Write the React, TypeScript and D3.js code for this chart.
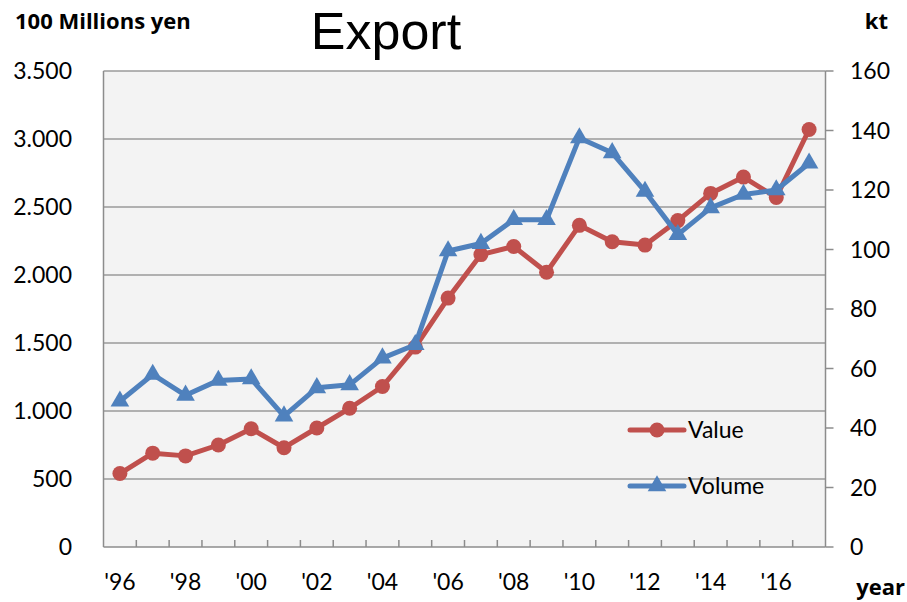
import React from "react";
import * as d3 from "d3";

const years = ["'96","'97","'98","'99","'00","'01","'02","'03","'04","'05","'06","'07","'08","'09","'10","'11","'12","'13","'14","'15","'16","'17"];
const valueSeries = [540,690,670,750,870,730,875,1020,1180,1470,1830,2150,2210,2020,2365,2245,2220,2400,2600,2720,2570,3070];
const volumeSeries = [49,58,51,56,56.5,44,53.5,54.5,63.5,68,99.5,102,110,110,137.5,132.5,119.5,105,114,118.5,120,129];
const leftTicks = [0,500,1000,1500,2000,2500,3000,3500];
const rightTicks = [0,20,40,60,80,100,120,140,160];
const xLabelYears = ["'96","'98","'00","'02","'04","'06","'08","'10","'12","'14","'16"];

const RED = "#C0504D";
const BLUE = "#4F81BD";
const FONT = "Lato, 'Open Sans', sans-serif";
const BOLD = "'Open Sans', Lato, sans-serif";

export default function App() {
  const W = 907, H = 602;
  const left = 103.5, right = 825.5, top = 71, bottom = 547;
  const x = d3.scaleBand<string>().domain(years).range([left, right]);
  const yL = d3.scaleLinear().domain([0, 3500]).range([bottom, top]);
  const yR = d3.scaleLinear().domain([0, 160]).range([bottom, top]);
  const cx = (d: string) => (x(d) as number) + x.bandwidth() / 2;

  const lineV = d3.line<number>().x((_, i) => cx(years[i])).y((d) => yL(d));
  const lineW = d3.line<number>().x((_, i) => cx(years[i])).y((d) => yR(d));
  const tri = d3.symbol().type(d3.symbolTriangle).size(150)();
  const fmt = (v: number) => d3.format(",")(v).replace(/,/g, ".");

  const boundaries = years.slice(1).map((y) => x(y) as number);

  return (
    <svg width={W} height={H} style={{ position: "absolute", left: 0, top: 0, background: "#fff" }}>
      <rect x={left} y={top} width={right - left} height={bottom - top} fill="#f3f3f3" />
      {leftTicks.slice(1).map((t) => (
        <line key={t} x1={left} x2={right} y1={yL(t)} y2={yL(t)} stroke="#9a9a9a" strokeWidth={1.5} />
      ))}
      <line x1={left} x2={left} y1={top} y2={bottom} stroke="#8c8c8c" strokeWidth={1.5} />
      <line x1={right} x2={right} y1={top} y2={bottom} stroke="#8c8c8c" strokeWidth={1.5} />
      <line x1={left} x2={right} y1={bottom} y2={bottom} stroke="#8c8c8c" strokeWidth={1.5} />
      {boundaries.map((b, i) => (
        <line key={i} x1={b} x2={b} y1={bottom} y2={bottom - 7} stroke="#8c8c8c" strokeWidth={1.5} />
      ))}
      {rightTicks.map((t) => (
        <line key={t} x1={right} x2={right + 8} y1={yR(t)} y2={yR(t)} stroke="#8c8c8c" strokeWidth={1.5} />
      ))}
      {leftTicks.map((t) => (
        <text key={t} x={72} y={yL(t) + 8} textAnchor="end" fontFamily={FONT} fontSize={23} fill="#000">{fmt(t)}</text>
      ))}
      {rightTicks.map((t) => (
        <text key={t} x={850} y={yR(t) + 8} textAnchor="start" fontFamily={FONT} fontSize={23} fill="#000">{t}</text>
      ))}
      {xLabelYears.map((y) => (
        <text key={y} x={cx(y)} y={590} textAnchor="middle" fontFamily={FONT} fontSize={23} fill="#000">{y}</text>
      ))}
      <path d={lineV(valueSeries) || ""} fill="none" stroke={RED} strokeWidth={5} strokeLinejoin="round" />
      {valueSeries.map((v, i) => (
        <circle key={i} cx={cx(years[i])} cy={yL(v)} r={7.5} fill={RED} />
      ))}
      <path d={lineW(volumeSeries) || ""} fill="none" stroke={BLUE} strokeWidth={5} strokeLinejoin="round" />
      {volumeSeries.map((v, i) => (
        <path key={i} d={tri || ""} transform={`translate(${cx(years[i])},${yR(v)})`} fill={BLUE} />
      ))}
      <line x1={630} x2={684} y1={430} y2={430} stroke={RED} strokeWidth={5} strokeLinecap="round" />
      <circle cx={657} cy={430} r={7.5} fill={RED} />
      <text x={688} y={438} fontFamily={FONT} fontSize={23} fill="#000">Value</text>
      <line x1={630} x2={684} y1={486} y2={486} stroke={BLUE} strokeWidth={5} strokeLinecap="round" />
      <path d={tri || ""} transform="translate(657,486)" fill={BLUE} />
      <text x={688} y={494} fontFamily={FONT} fontSize={23} fill="#000">Volume</text>
      <text x={386} y={49} textAnchor="middle" fontFamily="'Liberation Sans', Arial, sans-serif" fontSize={52} fill="#000">Export</text>
      <text x={15} y={29} fontFamily={BOLD} fontWeight="bold" fontSize={22} fill="#000">100 Millions yen</text>
      <text x={888} y={29} textAnchor="end" fontFamily={BOLD} fontWeight="bold" fontSize={22} fill="#000">kt</text>
      <text x={905} y={595} textAnchor="end" fontFamily={BOLD} fontWeight="bold" fontSize={22} fill="#000">year</text>
    </svg>
  );
}
